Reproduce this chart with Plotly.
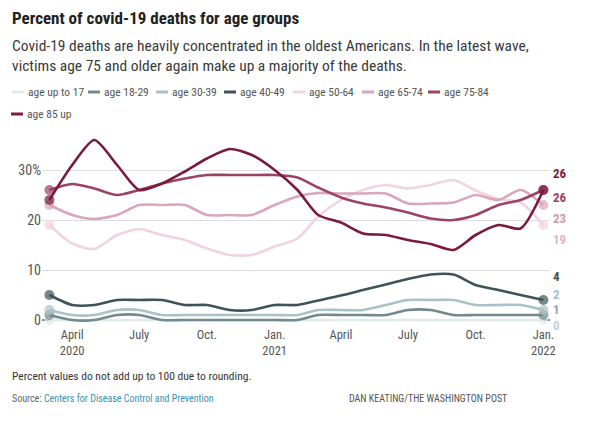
import plotly.graph_objects as go

# ---------------- data ----------------
months = ["2020-03-01", "2020-04-01", "2020-05-01", "2020-06-01", "2020-07-01", "2020-08-01",
          "2020-09-01", "2020-10-01", "2020-11-01", "2020-12-01", "2021-01-01", "2021-02-01",
          "2021-03-01", "2021-04-01", "2021-05-01", "2021-06-01", "2021-07-01", "2021-08-01",
          "2021-09-01", "2021-10-01", "2021-11-01", "2021-12-01", "2022-01-01"]

age_up_to_17 = [0, 0, 0, 0, 0, 0, 0, 0, 0, 0, 0, 0, 0, 0, 0, 0, 0, 0, 0, 0, 0, 0, 0]
age_18_29 = [1, 0, 0, 1, 1, 0, 0, 0, 0, 0, 0, 0, 1, 1, 1, 1, 2, 2, 1, 1, 1, 1, 1]
age_30_39 = [2, 1, 1, 2, 2, 1, 1, 1, 1, 1, 1, 1, 2, 2, 2, 3, 4, 4, 4, 3, 3, 3, 2]
age_40_49 = [5, 3, 3, 4, 4, 4, 3, 3, 2, 2, 3, 3, 3.9, 4.9, 6, 7.1, 8.2, 9.1, 9.1, 7, 6, 5, 4]
age_50_64 = [19, 15.3, 14.2, 17, 18.2, 17, 16, 14.3, 13, 13, 14.7, 16.3, 20.7, 24, 26, 27,
             26.3, 27, 28, 25.9, 24.2, 23.5, 19]
age_65_74 = [23, 21, 20.2, 21, 23, 23, 23, 21, 21, 21, 23, 24.7, 25.4, 25.3, 25.3, 25.3,
             23.3, 23.3, 23.5, 25, 24, 26, 23]
age_75_84 = [26, 27.2, 26.3, 25, 26, 27.3, 28.3, 29, 29, 29, 29, 28.5, 26.5, 24.5, 23.3,
             22.5, 21.5, 20.3, 20, 21, 23, 24, 26]
age_85_up = [24, 31, 36, 31, 26, 27.3, 29.7, 32.3, 34.2, 33, 30, 26, 21, 19.5, 17.3, 17,
             16, 15.2, 14, 17, 19, 18.3, 26]

series_names = ["age up to 17", "age 18-29", "age 30-39", "age 40-49",
                "age 50-64", "age 65-74", "age 75-84", "age 85 up"]
series_values = [age_up_to_17, age_18_29, age_30_39, age_40_49,
                 age_50_64, age_65_74, age_75_84, age_85_up]

tick_dates = ["2020-04-01", "2020-07-01", "2020-10-01", "2021-01-01",
              "2021-04-01", "2021-07-01", "2021-10-01", "2022-01-01"]
tick_labels = ["April<br>2020", "July", "Oct.", "Jan.<br>2021",
               "April", "July", "Oct.", "Jan.<br>2022"]
y_ticks = [0, 10, 20, 30]
y_tick_labels = ["0", "10", "20", "30%"]

# ---------------- styles ----------------
colors = ["#e2eaec", "#72898e", "#a9c2c7", "#3f5359",
          "#f1d4dc", "#daa7b7", "#9c4263", "#7a1a3c"]
label_colors = ["#c3d0d4", "#8fa6ac", "#a6bfc5", "#3f5359",
                "#e2b7c4", "#d29cad", "#9c4263", "#7a1a3c"]
# end-label vertical positions (data units, dodged to avoid overlap)
label_y = [-1.0, 2.2, 5.2, 8.8, 16.2, 20.4, 24.6, 29.4]

FONT = "Liberation Sans Narrow, Roboto Condensed, DejaVu Sans Condensed, Arial Narrow, sans-serif"

W, H = 600, 422
PL, PR, PT, PB = 42, 550, 135, 325


def px(xp):
    return (xp - PL) / (PR - PL)


def py(yp):
    return (PB - yp) / (PB - PT)


fig = go.Figure()

for name, vals, col in zip(series_names, series_values, colors):
    sizes = [10] + [0] * (len(vals) - 2) + [10]
    fig.add_trace(go.Scatter(
        x=months, y=vals, name=name, mode="lines+markers",
        line=dict(color=col, width=2.6, shape="spline", smoothing=0.7),
        marker=dict(size=sizes, color=col, line=dict(width=0)),
        showlegend=False, hoverinfo="skip", cliponaxis=False,
    ))

annotations = []
# end labels
for vals, col, ly in zip(series_values, label_colors, label_y):
    annotations.append(dict(
        x=px(551), xref="paper", y=ly, yref="y", text="<b>%d</b>" % round(vals[-1]),
        showarrow=False, xanchor="left", yanchor="middle",
        font=dict(family=FONT, size=13, color=col),
    ))

# title, subtitle
annotations.append(dict(x=px(10), y=py(18), xref="paper", yref="paper",
                        text="<b>Percent of covid-19 deaths for age groups</b>",
                        showarrow=False, xanchor="left", yanchor="middle",
                        font=dict(family=FONT, size=17, color="#222222")))
annotations.append(dict(x=px(10), y=py(56), xref="paper", yref="paper",
                        text="Covid-19 deaths are heavily concentrated in the oldest Americans. In the latest wave,"
                             "<br>victims age 75 and older again make up a majority of the deaths.",
                        showarrow=False, xanchor="left", yanchor="middle", align="left",
                        font=dict(family=FONT, size=15.5, color="#3a3a3a")))

# manual legend
legend_rows = [92, 92, 92, 92, 92, 92, 92, 114]
legend_sym_x = [12, 88, 156, 224, 293, 362, 428, 11]
shapes = []
for name, col, ry, sx in zip(series_names, colors, legend_rows, legend_sym_x):
    shapes.append(dict(type="line", xref="paper", yref="paper",
                       x0=px(sx), x1=px(sx + 12), y0=py(ry), y1=py(ry),
                       line=dict(color=col, width=3)))
    annotations.append(dict(x=px(sx + 14), y=py(ry), xref="paper", yref="paper",
                            text=name, showarrow=False, xanchor="left", yanchor="middle",
                            font=dict(family=FONT, size=11.5, color="#555555")))

# footer
annotations.append(dict(x=px(10), y=py(376), xref="paper", yref="paper",
                        text="Percent values do not add up to 100 due to rounding.",
                        showarrow=False, xanchor="left", yanchor="middle",
                        font=dict(family=FONT, size=11.5, color="#333333")))
annotations.append(dict(x=px(10), y=py(398), xref="paper", yref="paper",
                        text="Source: <span style='color:#3b8fae'>Centers for Disease Control and Prevention</span>",
                        showarrow=False, xanchor="left", yanchor="middle",
                        font=dict(family=FONT, size=10, color="#666666")))
annotations.append(dict(x=px(347), y=py(398), xref="paper", yref="paper",
                        text="DAN KEATING/THE WASHINGTON POST",
                        showarrow=False, xanchor="left", yanchor="middle",
                        font=dict(family=FONT, size=10, color="#555555")))

fig.update_layout(
    width=W, height=H,
    margin=dict(l=PL, r=W - PR, t=PT, b=H - PB, pad=0, autoexpand=False),
    paper_bgcolor="white", plot_bgcolor="white",
    font=dict(family=FONT, size=13, color="#555555"),
    showlegend=False,
    annotations=annotations, shapes=shapes,
    xaxis=dict(
        type="date", range=["2020-02-20", "2022-01-10"], automargin=False,
        tickvals=tick_dates, ticktext=tick_labels, showgrid=False, zeroline=False,
        showline=False, ticks="", tickfont=dict(family=FONT, size=12.5, color="#555555"),
        fixedrange=True,
    ),
    yaxis=dict(
        range=[-1, 37], tickvals=y_ticks, ticktext=y_tick_labels, automargin=False,
        showgrid=True, gridcolor="#dedede", gridwidth=1, zeroline=True,
        zerolinecolor="#8a8a8a", zerolinewidth=1.2, showline=False, ticks="",
        tickfont=dict(family=FONT, size=14, color="#555555"), fixedrange=True,
    ),
)

fig.write_html("out.html", config={"displayModeBar": False, "staticPlot": True},
               post_script="document.body.style.margin='0';")
